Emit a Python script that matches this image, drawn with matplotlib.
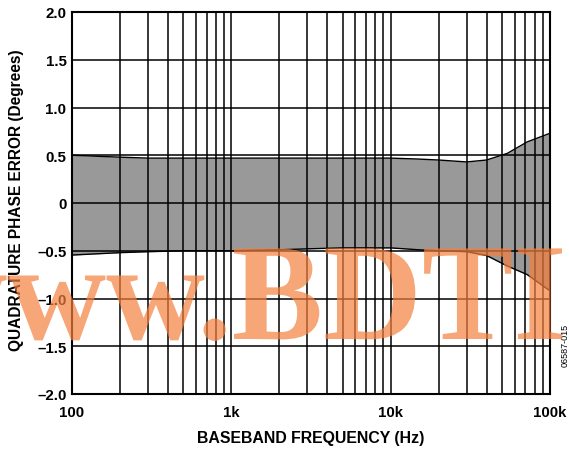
import matplotlib
matplotlib.use("Agg")
import matplotlib.pyplot as plt
from matplotlib.textpath import TextPath
from matplotlib.patches import PathPatch
from matplotlib.font_manager import FontProperties
from matplotlib.transforms import Affine2D, IdentityTransform
from matplotlib.ticker import FixedLocator, NullFormatter, LogLocator

# phase error spread vs baseband frequency
freq = [100, 200, 300, 500, 1000, 2000, 3000, 5000, 10000, 15000, 20000,
        30000, 40000, 54000, 72000, 100000]
upper = [0.50, 0.48, 0.47, 0.47, 0.47, 0.47, 0.47, 0.47, 0.47, 0.46, 0.45,
         0.43, 0.45, 0.52, 0.64, 0.73]
lower = [-0.545, -0.52, -0.51, -0.50, -0.50, -0.49, -0.48, -0.47, -0.47, -0.49,
         -0.50, -0.51, -0.55, -0.66, -0.75, -0.92]

xticks = [100, 1000, 10000, 100000]
xlabels = ["100", "1k", "10k", "100k"]
yticks = [-2.0, -1.5, -1.0, -0.5, 0, 0.5, 1.0, 1.5, 2.0]
ylabels = ["\u20132.0", "\u20131.5", "\u20131.0", "\u20130.5", "0", "0.5", "1.0", "1.5", "2.0"]

plt.rcParams['font.family'] = ['Liberation Sans', 'DejaVu Sans']

fig = plt.figure(figsize=(5.69, 4.52), dpi=100)
ax = fig.add_axes([72/569, 1 - 395/452, (550 - 72)/569, (395 - 13)/452])

ax.fill_between(freq, lower, upper, color='#999999', linewidth=0, zorder=1)
ax.plot(freq, upper, color='black', lw=1.0, zorder=3)
ax.plot(freq, lower, color='black', lw=1.0, zorder=3)

ax.set_xscale('log')
ax.set_xlim(100, 100000)
ax.set_ylim(-2.0, 2.0)
ax.xaxis.set_major_locator(FixedLocator(xticks))
ax.xaxis.set_minor_locator(LogLocator(base=10, subs=range(2, 10)))
ax.xaxis.set_minor_formatter(NullFormatter())
ax.set_xticks(xticks, xlabels)
ax.set_yticks(yticks, ylabels)
ax.grid(True, which='both', color='black', lw=1.1, zorder=2)
ax.set_axisbelow(False)
ax.tick_params(which='both', length=0, labelsize=10.8)
ax.tick_params(axis='x', pad=8)
ax.tick_params(axis='y', pad=4)
for lbl in ax.get_xticklabels() + ax.get_yticklabels():
    lbl.set_fontweight('bold')
for sp in ax.spines.values():
    sp.set_linewidth(1.5)
    sp.set_zorder(4)

ax.set_xlabel("BASEBAND FREQUENCY (Hz)", fontsize=11.4, fontweight='bold', va='center')
ax.set_ylabel("QUADRATURE PHASE ERROR (Degrees)", fontsize=11.2, fontweight='bold', va='center')
ax.xaxis.set_label_coords(0.5, (395 - 439) / 382)
ax.yaxis.set_label_coords((17 - 72) / 478, (395 - 200) / 382)

fig.text(565/569, 1 - 345/452, "06587-015", rotation=90, fontsize=6.5,
         ha='center', va='center')

# watermark, drawn in pixel coordinates
fp = FontProperties(family='Liberation Serif', weight='bold')
ref = TextPath((0, 0), "BDTI", size=1, prop=fp).get_extents()
full = TextPath((0, 0), "www.BDTI", size=1, prop=fp)
fext = full.get_extents()
sx = 328 / ref.width
sy = 91 / ref.height
tr = Affine2D().scale(sx, sy).translate(562 - fext.x1 * sx, 452 - 340)
wm = PathPatch(tr.transform_path(full), facecolor='#F5803E', edgecolor='none',
               alpha=0.7, transform=IdentityTransform(), zorder=10)
fig.add_artist(wm)

fig.savefig("out.png", dpi=100)
